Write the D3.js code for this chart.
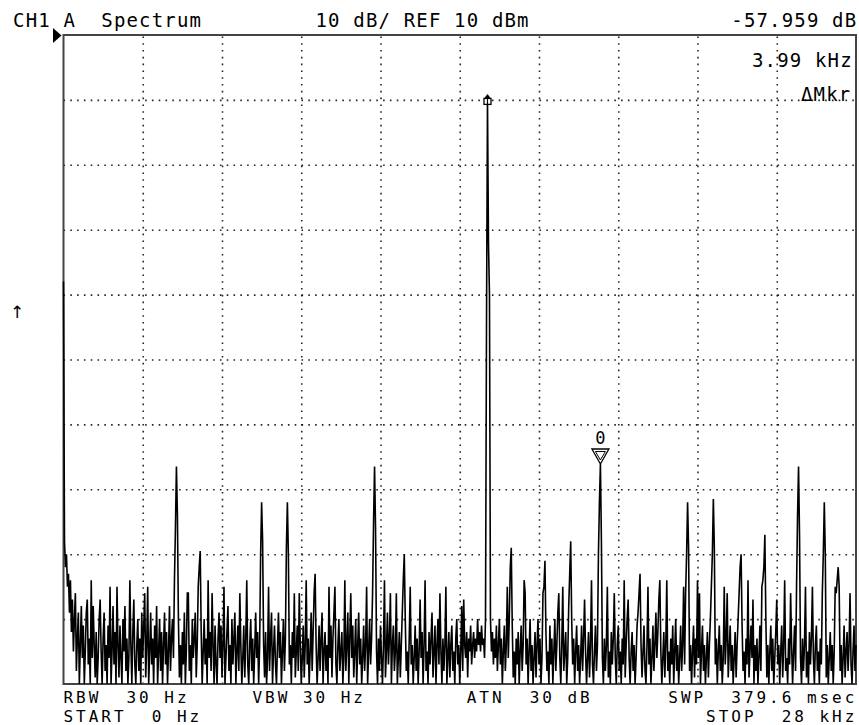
<!DOCTYPE html>
<html><head><meta charset="utf-8">
<script src="https://cdn.jsdelivr.net/npm/d3@7/dist/d3.min.js"></script>
<style>html,body{margin:0;padding:0;background:#fff;}svg{display:block;}</style>
</head><body>
<svg id="chart" width="859" height="725"></svg>
<script>
// ---------------- data ----------------
const startHz = 0;
const stopHz = 28000;
const binHz = 35;               // 801 points over 0..28 kHz
const refDbm = 10;
const dbPerDiv = 10;
const divisionsX = 10;
const divisionsY = 10;

// trace, dBm, one value per bin
const spectrumDbm = [
 -28,-68,-72,-70,-75,-73,-79,-74,-82,-77,-85,-80,-76,-88,-83,-79,-90,-84,-78,-86,
 -81,-92,-85,-79,-77,-87,-83,-91,-74,-86,-78,-84,-89,-82,-93,-86,-80,-77,-85,-90,
 -83,-79,-88,-84,-92,-81,-86,-75,-91,-85,-78,-87,-82,-90,-75,-84,-89,-81,-86,-93,
 -80,-85,-78,-88,-83,-91,-86,-74,-84,-90,-82,-77,-87,-92,-84,-80,-88,-83,-91,-79,
 -86,-81,-76,-89,-84,-75,-92,-85,-79,-87,-83,-90,-81,-86,-78,-93,-85,-80,-88,-82,
 -90,-84,-79,-87,-82,-91,-85,-78,-88,-83,-80,-86,-74,-66,-56.5,-64,-80,-89,-84,-91,
 -82,-87,-79,-90,-85,-76,-76,-88,-84,-92,-80,-86,-83,-79,-89,-84,-75,-72,-69.5,-82,
 -90,-85,-80,-87,-83,-91,-74,-86,-82,-88,-76,-84,-90,-81,-87,-93,-83,-79,-86,-81,
 -89,-84,-75,-92,-86,-82,-78,-88,-84,-91,-80,-87,-83,-79,-90,-85,-81,-88,-76,-84,
 -91,-86,-81,-89,-83,-74,-87,-92,-84,-80,-88,-83,-90,-85,-79,-86,-82,-91,-84,-70,
 -62,-68,-84,-89,-82,-91,-86,-75,-88,-83,-79,-90,-85,-81,-87,-92,-84,-79,-86,-82,
 -90,-85,-80,-88,-83,-69,-62,-70,-87,-84,-91,-82,-86,-76,-89,-85,-81,-88,-76,-84,
 -92,-86,-81,-89,-84,-74,-87,-83,-91,-85,-79,-88,-82,-76,-73,-84,-90,-86,-81,-88,
 -83,-79,-90,-85,-82,-88,-84,-92,-75,-86,-81,-89,-83,-79,-75,-87,-91,-84,-80,-88,
 -85,-82,-90,-86,-74,-88,-84,-79,-91,-83,-76,-86,-81,-89,-85,-80,-92,-84,-79,-87,
 -83,-90,-86,-81,-88,-84,-75,-91,-85,-80,-87,-83,-76,-65,-56.5,-66,-85,-90,-83,-88,
 -81,-86,-92,-84,-74,-89,-85,-79,-87,-83,-76,-90,-84,-81,-88,-85,-76,-91,-86,-82,
 -89,-84,-79,-74,-70,-80,-88,-85,-91,-83,-75,-87,-84,-90,-86,-81,-88,-83,-92,-85,
 -77,-86,-82,-90,-84,-74,-88,-85,-91,-82,-87,-83,-79,-89,-85,-81,-90,-84,-80,-87,
 -76,-85,-91,-83,-88,-84,-75,-90,-86,-82,-89,-84,-81,-88,-85,-92,-83,-80,-87,-84,
 -90,-85,-78,-88,-77,-84,-86,-82,-89,-83,-85,-81,-87,-84,-82,-86,-83,-85,-80,-84,
 -82,-85,-81,-84,-83,-86,-80,-35,0,-22,-30,-80,-85,-82,-87,-83,-86,-81,-88,-84,
 -80,-87,-83,-90,-85,-81,-88,-84,-75,-86,-80,-72,-69,-81,-89,-85,-91,-83,-87,-82,
 -90,-85,-81,-88,-84,-74,-76,-87,-83,-91,-85,-80,-88,-84,-90,-86,-82,-89,-84,-80,
 -87,-83,-91,-86,-76,-75,-71,-82,-88,-85,-92,-81,-87,-83,-90,-85,-80,-88,-84,-79,
 -76,-86,-91,-84,-75,-88,-85,-82,-90,-86,-78,-73,-68,-80,-87,-83,-91,-85,-81,-88,
 -84,-90,-86,-81,-88,-83,-77,-85,-91,-86,-82,-89,-84,-74,-87,-92,-85,-81,-88,-84,
 -70,-62,-56.1,-68,-86,-90,-83,-88,-84,-75,-89,-85,-91,-82,-87,-83,-76,-86,-90,-84,
 -81,-88,-85,-92,-83,-87,-74,-89,-84,-80,-77,-86,-91,-85,-82,-88,-84,-90,-86,-81,
 -79,-76,-73,-84,-89,-85,-81,-88,-92,-84,-75,-87,-83,-90,-86,-81,-88,-84,-79,-86,
 -82,-77,-74,-85,-91,-86,-82,-89,-84,-74,-88,-85,-91,-83,-87,-81,-90,-85,-80,-88,
 -84,-91,-86,-81,-88,-84,-75,-87,-76,-70,-62,-69,-88,-84,-91,-85,-81,-89,-83,-87,
 -74,-86,-76,-90,-85,-81,-88,-84,-92,-86,-82,-89,-84,-80,-75,-70,-61.5,-69,-87,-83,
 -90,-85,-81,-88,-84,-91,-86,-75,-87,-83,-76,-89,-85,-81,-88,-84,-92,-86,-82,-89,
 -84,-80,-76,-72,-70,-81,-88,-85,-91,-83,-87,-74,-89,-85,-81,-86,-77,-90,-84,-88,
 -83,-91,-86,-81,-88,-75,-74,-72,-67,-80,-89,-84,-90,-85,-81,-88,-83,-91,-86,-82,
 -77,-87,-84,-90,-85,-81,-89,-84,-74,-88,-86,-91,-83,-87,-76,-84,-90,-85,-81,-88,
 -75,-64,-56.5,-67,-86,-90,-83,-88,-84,-75,-89,-85,-91,-82,-87,-83,-75,-86,-90,-84,
 -81,-88,-85,-91,-83,-87,-76,-70,-62,-70,-89,-84,-90,-86,-82,-88,-84,-91,-85,-75,
 -76,-74,-72,-75,-88,-84,-90,-86,-81,-89,-85,-82,-88,-84,-76,-87,-91,-85,-81,-88,
 -84
];

const mainMarkerBin = 428;
const deltaMarkerBin = 542;
const deltaMarkerLabel = "0";

const headerTexts = ["CH1", "A", "Spectrum", "10 dB/ REF 10 dBm", "-57.959 dB"];
const markerTexts = ["3.99 kHz", "\u0394Mkr"];
const footerRow1 = ["RBW", "30 Hz", "VBW", "30 Hz", "ATN", "30 dB", "SWP", "379.6 msec"];
const footerRow2 = ["START", "0 Hz", "STOP", "28 kHz"];

// ---------------- layout ----------------
const L = 63.5, R = 856, T = 35, B = 684;
const pitch = 12.6;
const col = c => L + c * pitch;

const svg = d3.select("#chart");
svg.append("rect").attr("width", 859).attr("height", 725).attr("fill", "#fff");

const x = d3.scaleLinear().domain([startHz, stopHz]).range([L, R]);
const y = d3.scaleLinear().domain([refDbm - dbPerDiv * divisionsY, refDbm]).range([B, T]).clamp(true);

// grid via axes
const xGridVals = d3.range(1, divisionsX).map(i => startHz + i * (stopHz - startHz) / divisionsX);
const yGridVals = d3.range(1, divisionsY).map(i => refDbm - i * dbPerDiv);

const gx = svg.append("g").attr("transform", `translate(0,${B})`)
  .call(d3.axisBottom(x).tickValues(xGridVals).tickSize(-(B - T)).tickFormat(""));
const gy = svg.append("g").attr("transform", `translate(${L},0)`)
  .call(d3.axisLeft(y).tickValues(yGridVals).tickSize(-(R - L)).tickFormat(""));
[gx, gy].forEach(g => {
  g.select(".domain").remove();
  g.selectAll(".tick line").attr("stroke", "#000").attr("stroke-width", 1.6)
    .attr("stroke-dasharray", "1.6,5.2").attr("opacity", 0.85);
});

// frame
svg.append("rect").attr("x", L).attr("y", T).attr("width", R - L).attr("height", B - T)
  .attr("fill", "none").attr("stroke", "#444").attr("stroke-width", 2);

// trace
const line = d3.line().x((d, i) => x(i * binHz)).y(d => y(d));
svg.append("path").datum(spectrumDbm).attr("d", line)
  .attr("fill", "none").attr("stroke", "#000").attr("stroke-width", 1.6)
  .attr("stroke-linejoin", "miter").attr("stroke-miterlimit", 2);

// main marker
const mx = x(mainMarkerBin * binHz), my = y(spectrumDbm[mainMarkerBin]);
svg.append("path").attr("d", `M${mx},${my - 6} L${mx - 3},${my - 2} L${mx + 3},${my - 2} Z`).attr("fill", "#000");
svg.append("rect").attr("x", mx - 3.5).attr("y", my - 1.5).attr("width", 7).attr("height", 6)
  .attr("fill", "#fff").attr("stroke", "#000").attr("stroke-width", 1.3);
svg.append("line").attr("x1", mx).attr("x2", mx).attr("y1", my - 2).attr("y2", my + 5).attr("stroke", "#000").attr("stroke-width", 1.2);

// delta marker
const dx = x(deltaMarkerBin * binHz), dy = y(spectrumDbm[deltaMarkerBin]);
svg.append("path").attr("d", `M${dx - 8.5},${dy - 15} L${dx + 8.5},${dy - 15} L${dx},${dy} Z`)
  .attr("fill", "#fff").attr("stroke", "#000").attr("stroke-width", 1.3);
svg.append("path").attr("d", `M${dx - 5},${dy - 12.5} L${dx + 5},${dy - 12.5} L${dx},${dy - 4} Z`)
  .attr("fill", "none").attr("stroke", "#000").attr("stroke-width", 1);
svg.append("text").attr("x", dx).attr("y", dy - 20).attr("text-anchor", "middle")
  .attr("font-family", "DejaVu Sans Mono").attr("font-size", 17).text(deltaMarkerLabel);

// ref level pointer
svg.append("path").attr("d", `M${L - 10.5},${T - 7} L${L - 2},${T + 0.5} L${L - 10.5},${T + 8} Z`).attr("fill", "#000");
svg.append("text").attr("x", 17).attr("y", 318).attr("text-anchor", "middle")
  .attr("font-family", "DejaVu Sans").attr("font-size", 17).text("\u2191");

// texts
function txt(s, xx, yy, size) {
  const fs = size || 19;
  const adv = 0.6021 * fs;
  svg.append("text").attr("x", xx).attr("y", yy)
    .attr("font-family", "DejaVu Sans Mono").attr("font-size", fs)
    .attr("letter-spacing", (pitch - adv).toFixed(2) + "px").attr("fill", "#000")
    .text(s);
}
txt(headerTexts[0], col(-4), 27);
txt(headerTexts[1], col(0), 27);
txt(headerTexts[2], col(3), 27);
txt(headerTexts[3], col(20), 27);
txt(headerTexts[4], col(53), 27);
txt(markerTexts[0], 752, 67);
txt(markerTexts[1], 801, 101);

const fsF = 16;
txt(footerRow1[0], col(0), 703, fsF);
txt(footerRow1[1], col(5), 703, fsF);
txt(footerRow1[2], col(15), 703, fsF);
txt(footerRow1[3], col(19), 703, fsF);
txt(footerRow1[4], col(32), 703, fsF);
txt(footerRow1[5], col(37), 703, fsF);
txt(footerRow1[6], col(48), 703, fsF);
txt(footerRow1[7], col(53), 703, fsF);

txt(footerRow2[0], col(0), 722, fsF);
txt(footerRow2[1], col(7), 722, fsF);
txt(footerRow2[2], col(51), 722, fsF);
txt(footerRow2[3], col(57), 722, fsF);
</script>
</body></html>
